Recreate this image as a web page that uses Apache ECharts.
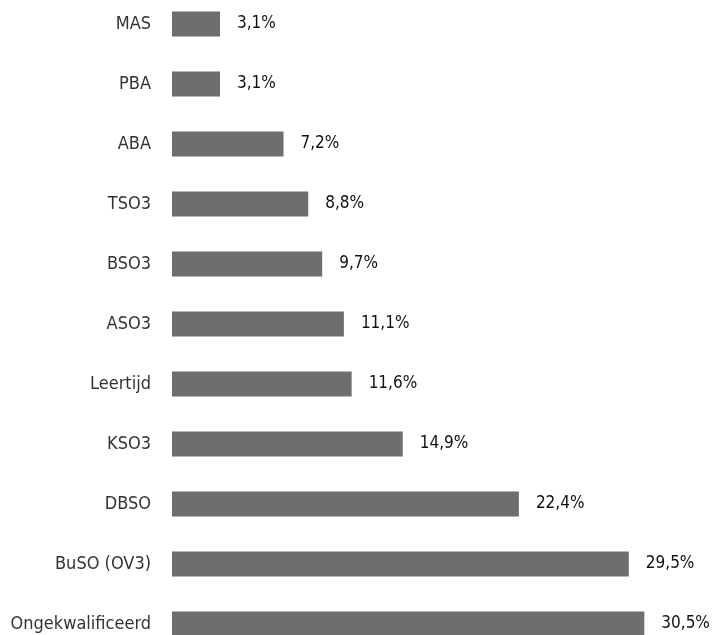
<!DOCTYPE html>
<html>
<head>
<meta charset="utf-8">
<script src="https://cdn.jsdelivr.net/npm/echarts@6/dist/echarts.min.js"></script>
<style>
  html, body { margin: 0; padding: 0; background: #fff; }
  #echart-root { width: 715px; height: 635px; }
</style>
</head>
<body>
<div id="echart-root"></div>
<script>
// categories from bottom to top (category axis starts at the bottom)
const categories = ["Ongekwalificeerd", "BuSO (OV3)", "DBSO", "KSO3", "Leertijd", "ASO3", "BSO3", "TSO3", "ABA", "PBA", "MAS"];
const values = [30.5, 29.5, 22.4, 14.9, 11.6, 11.1, 9.7, 8.8, 7.2, 3.1, 3.1];

const myChart = echarts.init(document.getElementById("echart-root"));
const fontFamily = "'DejaVu Sans Condensed', sans-serif";

const option = {
  animation: false,
  grid: {
    left: 172,
    right: 1,
    top: -6,
    height: 660,
    outerBoundsMode: "none",
  },
  xAxis: {
    type: "value",
    min: 0,
    max: 35,
    show: false,
  },
  yAxis: {
    type: "category",
    data: categories,
    axisLine: { show: false },
    axisTick: { show: false },
    axisLabel: {
      margin: 21,
      color: "#333",
      fontSize: 18,
      fontFamily: fontFamily,
    },
  },
  series: [
    {
      type: "bar",
      data: values,
      barWidth: 25,
      itemStyle: { color: "#6e6e6e" },
      label: {
        show: true,
        position: "right",
        distance: 17,
        color: "#111",
        fontSize: 17,
        fontFamily: fontFamily,
        // Dutch decimal comma
        formatter: (params) => params.value.toFixed(1).replace(".", ",") + "%",
      },
    },
  ],
};

myChart.setOption(option);
</script>
</body>
</html>
